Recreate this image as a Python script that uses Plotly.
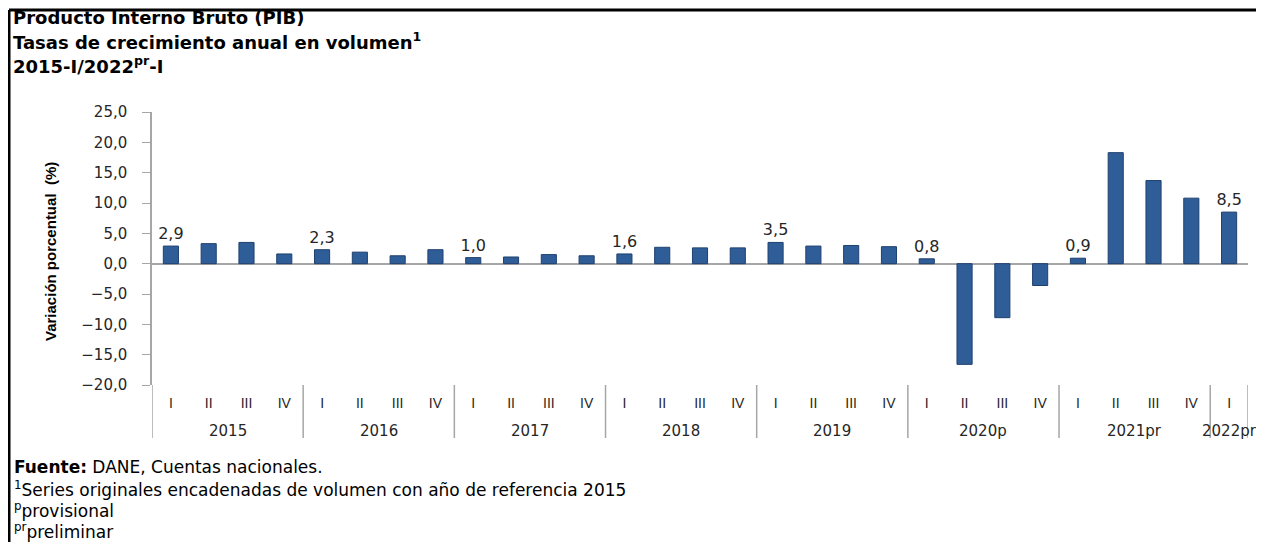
"""PIB - tasas de crecimiento anual en volumen, 2015-I / 2022pr-I."""
import plotly.graph_objects as go

# Data
years = ["2015"] * 4 + ["2016"] * 4 + ["2017"] * 4 + ["2018"] * 4 + \
        ["2019"] * 4 + ["2020p"] * 4 + ["2021pr"] * 4 + ["2022pr"]
quarters = ["I", "II", "III", "IV"] * 7 + ["I"]
growth = [2.9, 3.3, 3.5, 1.6,
          2.3, 1.9, 1.3, 2.3,
          1.0, 1.1, 1.5, 1.3,
          1.6, 2.7, 2.6, 2.6,
          3.5, 2.9, 3.0, 2.8,
          0.8, -16.6, -8.9, -3.6,
          0.9, 18.3, 13.7, 10.8,
          8.5]
labelled = [0, 4, 8, 12, 16, 20, 24, 28]  # first quarter of each year
y_ticks = [25, 20, 15, 10, 5, 0, -5, -10, -15, -20]

# page has an 8px body margin, so work in screen pixels and shift
OFF = 8
W, H = 1264 - OFF, 542 - OFF
L, R, T, B = 152 - OFF, 16, 112 - OFF, 542 - 385
PW, PH = W - L - R, H - T - B

BLUE = "#2F5D97"
GREY = "#A6A6A6"
TXT = "#262626"
FONT = "DejaVu Sans, sans-serif"
NARROW = "Liberation Sans Narrow, Arial Narrow, sans-serif"


def px_x(x):
    return (x - OFF - L) / PW


def px_y(y):
    return (H - B - (y - OFF)) / PH


cats = [f"{y}-{q}" for y, q in zip(years, quarters)]
labels = [f"{v:.1f}".replace(".", ",") if i in labelled else ""
          for i, v in enumerate(growth)]

fig = go.Figure(go.Bar(
    x=cats,
    y=growth,
    width=0.4,
    marker=dict(color=BLUE, line=dict(color="#1F4170", width=1)),
    text=labels,
    textposition="outside",
    constraintext="none",
    textfont=dict(family=FONT, size=16, color=TXT),
    cliponaxis=False,
    hoverinfo="y",
))

fig.update_layout(
    width=W, height=H,
    margin=dict(l=L, r=R, t=T, b=B),
    paper_bgcolor="white", plot_bgcolor="white",
    separators=",.",
    showlegend=False,
    xaxis=dict(
        type="category",
        range=[-0.5, len(cats) - 0.5],
        tickvals=cats, ticktext=quarters,
        showline=False, showgrid=False, zeroline=False, ticks="",
        ticklabelstandoff=8,
        tickfont=dict(family=NARROW, size=14, color=TXT),
    ),
    yaxis=dict(
        range=[-20, 25],
        tickvals=y_ticks, tickformat=".1f",
        showgrid=False,
        showline=True, linecolor=GREY, linewidth=1.5,
        ticks="outside", ticklen=8, tickcolor=GREY,
        ticklabelstandoff=12,
        zeroline=True, zerolinecolor=GREY, zerolinewidth=1.5,
        tickfont=dict(family=FONT, size=15, color=TXT),
    ),
)

# y axis title
fig.add_annotation(text="<b>Variación porcentual  (%)</b>", textangle=-90,
                   xref="paper", yref="paper", x=px_x(50), y=px_y(252),
                   xanchor="center", yanchor="middle", showarrow=False,
                   font=dict(family=NARROW, size=15, color="black"))

# year labels and dividers under the quarter labels
bounds = [-0.5] + [i + 0.5 for i in range(len(years) - 1) if years[i] != years[i + 1]] \
    + [len(years) - 0.5]
for a, b in zip(bounds[:-1], bounds[1:]):
    fig.add_annotation(text=years[int(a + 0.5)], xref="x", yref="paper",
                       x=(a + b) / 2, y=px_y(431), xanchor="center", yanchor="middle",
                       showarrow=False, font=dict(family=FONT, size=15, color=TXT))
for bx in bounds:
    fig.add_shape(type="line", xref="x", yref="paper", x0=bx, x1=bx,
                  y0=px_y(385), y1=px_y(438), line=dict(color=GREY, width=1.5))

# Titles
title_lines = [
    ("Producto Interno Bruto (PIB)", 18),
    ("Tasas de crecimiento anual en volumen<sup>1</sup>", 41),
    ("2015-I/2022<sup>pr</sup>-I", 65),
]
for text, ypos in title_lines:
    fig.add_annotation(text=f"<b>{text}</b>", xref="paper", yref="paper",
                       x=px_x(11), y=px_y(ypos), xanchor="left", yanchor="middle",
                       showarrow=False,
                       font=dict(family=FONT, size=18, color="black"))

# Footnotes
notes = [
    ("<b>Fuente:</b> DANE, Cuentas nacionales.", 467),
    ("<sup>1</sup>Series originales encadenadas de volumen con año de referencia 2015", 489),
    ("<sup>p</sup>provisional", 510),
    ("<sup>pr</sup>preliminar", 531),
]
for text, ypos in notes:
    fig.add_annotation(text=text, xref="paper", yref="paper",
                       x=px_x(12), y=px_y(ypos), xanchor="left", yanchor="middle",
                       showarrow=False,
                       font=dict(family=FONT, size=17, color="black"))

# Frame (top and left edges)
fig.add_shape(type="line", xref="paper", yref="paper",
              x0=px_x(9), x1=px_x(1264), y0=px_y(10), y1=px_y(10),
              line=dict(color="black", width=3))
fig.add_shape(type="line", xref="paper", yref="paper",
              x0=px_x(9), x1=px_x(9), y0=px_y(10), y1=px_y(542),
              line=dict(color="black", width=3))

fig.write_html("out.html")
